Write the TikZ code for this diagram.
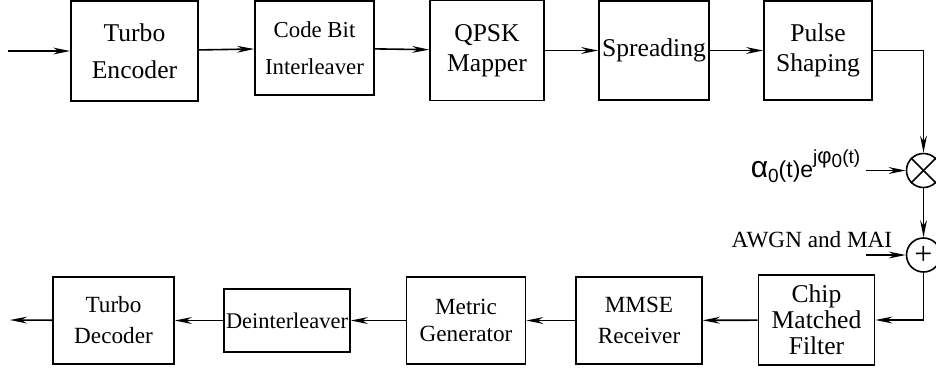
\documentclass[tikz,border=0pt]{standalone}
\usepackage{fontspec}
\setmainfont{Liberation Serif}
\newfontfamily\symfont{Liberation Sans}
\usetikzlibrary{arrows.meta}

\begin{document}
\begin{tikzpicture}[x=0.5pt, y=-0.5pt, line width=0.8pt,
  >={Stealth[length=8.5pt, width=3.4pt]},
  blk/.style={draw, align=center, inner sep=0pt, font=\fontsize{12.8}{15}\selectfont},
  low/.style={blk, font=\fontsize{11.6}{15.5}\selectfont},
  mix/.style={draw, circle, minimum size=17pt, inner sep=0pt}]
  \useasboundingbox (0,0) rectangle (936,371);

  % transmitter
  \node[blk, minimum width=63.5pt, minimum height=50pt, font=\fontsize{12.8}{18.3}\selectfont] (A) at (134.5,51) {Turbo\\Encoder};
  \node[blk, minimum width=59.5pt, minimum height=47pt, font=\fontsize{11.4}{18.3}\selectfont] (B) at (314.5,48) {Code Bit\\Interleaver};
  \node[blk, minimum width=57pt, minimum height=50pt] (C) at (487,50.5) {QPSK\\Mapper};
  \node[blk, minimum width=55pt, minimum height=49.5pt] (D) at (654,50.5) {Spreading};
  \node[blk, minimum width=54pt, minimum height=49.5pt] (E) at (818,50.5) {Pulse\\Shaping};

  \coordinate (in) at (8,51);
  \draw[->] (in) to (A);
  \draw[->] (A) to (B);
  \draw[->] (B) to (C);
  \draw[->] (C) to (D);
  \draw[->] (D) to (E);

  % channel
  \node[mix] (M) at (923.5,170.5) {};
  \draw (M.north west) -- (M.south east);
  \draw (M.north east) -- (M.south west);
  \node[mix, font=\fontsize{16}{16}\selectfont] (N) at (923.5,255) {+};

  \node[anchor=base east, inner sep=0pt, font=\symfont\fontsize{11.5}{13}\selectfont] (F) at (861,177)
    {{\fontsize{15}{15}\selectfont α}\raisebox{-0.45ex}{\fontsize{9.5}{10}\selectfont 0}(t)e\raisebox{1.1ex}{\fontsize{9.5}{10}\selectfont j{\fontsize{11}{11}\selectfont φ}\raisebox{-0.35ex}{0}(t)}};
  \node[anchor=base east, inner sep=0pt, font=\fontsize{11.6}{13}\selectfont] (G) at (893,247) {AWGN and MAI};
  \coordinate (p) at (866,170.5);
  \coordinate (q) at (866,255);

  \draw[->] (E) -| (M);
  \draw[->] (p) to (M);
  \draw[->] (M) to (N);
  \draw[->] (q) to (N);

  % receiver
  \node[blk, minimum width=58pt, minimum height=45pt, font=\fontsize{12.8}{13}\selectfont] (K) at (816.5,320) {Chip\\Matched\\Filter};
  \node[low, minimum width=63pt, minimum height=43.5pt] (L) at (639,320.5) {MMSE\\Receiver};
  \node[low, minimum width=59.5pt, minimum height=43.5pt, font=\fontsize{11.6}{13.5}\selectfont] (P) at (466,320.5) {Metric\\Generator};
  \node[low, minimum width=63pt, minimum height=31.5pt, font=\fontsize{11.2}{13}\selectfont] (Q) at (287,320.5) {Deinterleaver};
  \node[low, minimum width=60.5pt, minimum height=43.5pt] (R) at (113.5,320.5) {Turbo\\Decoder};

  \coordinate (out) at (10,320);
  \draw[->] (N) |- (K);
  \draw[->] (K) to (L);
  \draw[->] (L) to (P);
  \draw[->] (P) to (Q);
  \draw[->] (Q) to (R);
  \draw[->] (R) to (out);
\end{tikzpicture}
\end{document}
